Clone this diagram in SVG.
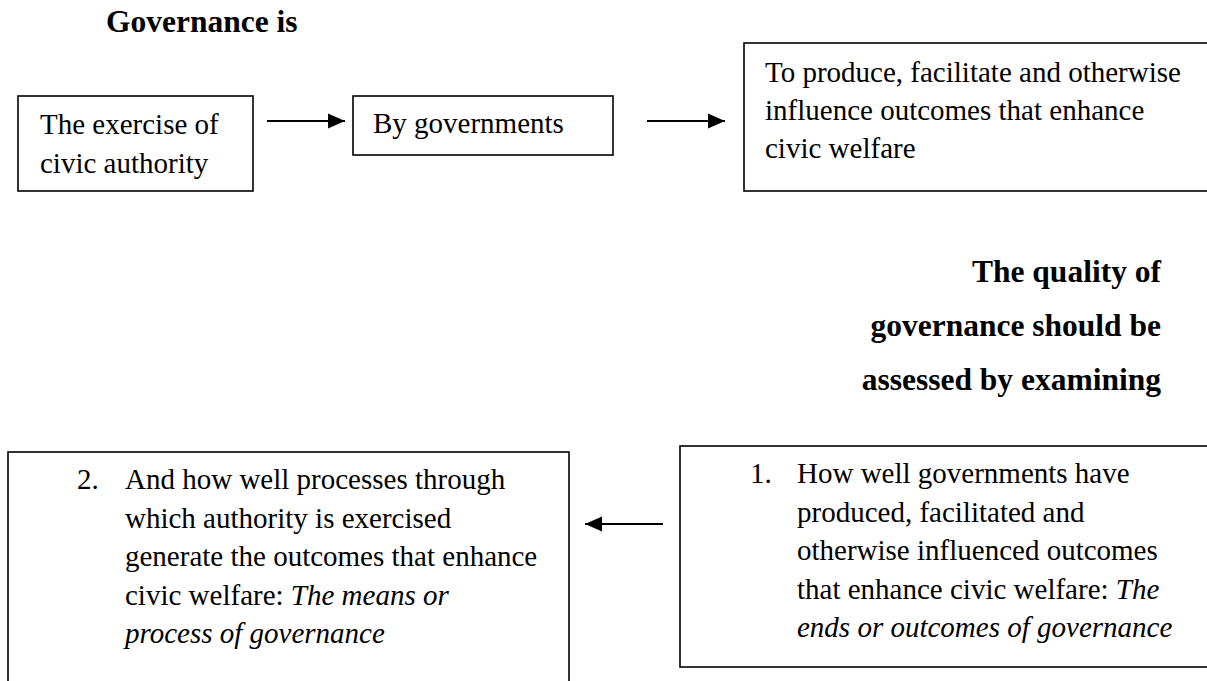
<svg xmlns="http://www.w3.org/2000/svg" width="1207" height="681" viewBox="0 0 1207 681">
  <style>
    .box { fill: #ffffff; stroke: #000000; stroke-width: 1.6; }
    .txt { font-family: "Liberation Serif", "Times New Roman", serif; font-size: 29px; fill: #000000; }
    .head { font-family: "Liberation Serif", "Times New Roman", serif; font-size: 31.5px; font-weight: bold; fill: #000000; }
    .it { font-style: italic; }
    .conn { stroke: #000000; stroke-width: 2; fill: none; }
  </style>
  <defs>
    <marker id="arrow" markerUnits="userSpaceOnUse" markerWidth="18" markerHeight="16" refX="17" refY="8" orient="auto">
      <path d="M0,0.5 L17,8 L0,15.5 Z" fill="#000000"/>
    </marker>
  </defs>
  <rect width="1207" height="681" fill="#ffffff"/>

  <g id="title-definition">
    <text class="head" x="106" y="32">Governance is</text>
  </g>

  <g id="node-exercise">
    <rect class="box" x="18" y="96" width="235" height="95"/>
    <text class="txt" x="40" y="134">The exercise of</text>
    <text class="txt" x="40" y="173">civic authority</text>
  </g>

  <g id="node-governments">
    <rect class="box" x="353" y="96" width="260" height="59"/>
    <text class="txt" x="373" y="133">By governments</text>
  </g>

  <g id="node-purpose">
    <rect class="box" x="744" y="43" width="480" height="148"/>
    <text class="txt" x="765" y="82">To produce, facilitate and otherwise</text>
    <text class="txt" x="765" y="120">influence outcomes that enhance</text>
    <text class="txt" x="765" y="158">civic welfare</text>
  </g>

  <g id="title-assessment">
    <text class="head" x="1161" y="282" text-anchor="end">The quality of</text>
    <text class="head" x="1161" y="336" text-anchor="end">governance should be</text>
    <text class="head" x="1161" y="390" text-anchor="end">assessed by examining</text>
  </g>

  <g id="node-ends">
    <rect class="box" x="680" y="446" width="544" height="221"/>
    <text class="txt" x="750" y="483">1.</text>
    <text class="txt" x="797" y="483">How well governments have</text>
    <text class="txt" x="797" y="521.5">produced, facilitated and</text>
    <text class="txt" x="797" y="560">otherwise influenced outcomes</text>
    <text class="txt" x="797" y="598.5">that enhance civic welfare: <tspan class="it">The</tspan></text>
    <text class="txt it" x="797" y="637">ends or outcomes of governance</text>
  </g>

  <g id="node-means">
    <rect class="box" x="8" y="452" width="561" height="250"/>
    <text class="txt" x="77" y="489">2.</text>
    <text class="txt" x="125" y="489">And how well processes through</text>
    <text class="txt" x="125" y="527.5">which authority is exercised</text>
    <text class="txt" x="125" y="566">generate the outcomes that enhance</text>
    <text class="txt" x="125" y="604.5">civic welfare: <tspan class="it">The means or</tspan></text>
    <text class="txt it" x="125" y="643">process of governance</text>
  </g>

  <g id="connectors">
    <line class="conn" x1="267" y1="121" x2="345" y2="121" marker-end="url(#arrow)"/>
    <line class="conn" x1="647" y1="121" x2="725" y2="121" marker-end="url(#arrow)"/>
    <line class="conn" x1="663" y1="524" x2="585" y2="524" marker-end="url(#arrow)"/>
  </g>
</svg>
